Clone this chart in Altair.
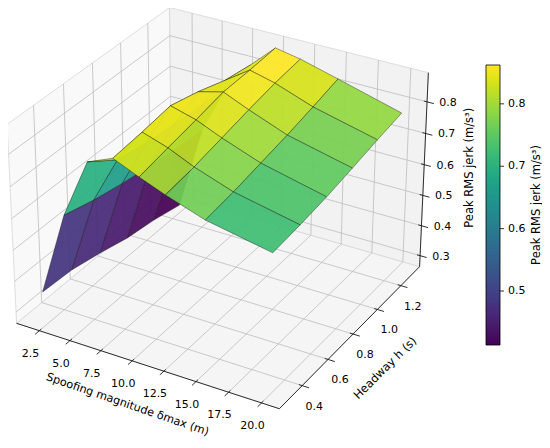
import numpy as np
import pandas as pd
import altair as alt

# ---------------- data ----------------
DELTA = [2, 4, 6, 8, 10, 12, 15, 20]            # spoofing magnitude (m)
HEADWAY = [0.3, 0.5, 0.7, 0.9, 1.1, 1.3]         # headway (s)
JERK = [                                          # rows: headway, cols: delta
    [0.355, 0.625, 0.812, 0.845, 0.811, 0.780, 0.739, 0.700],
    [0.349, 0.599, 0.748, 0.855, 0.829, 0.793, 0.751, 0.709],
    [0.328, 0.580, 0.730, 0.868, 0.846, 0.812, 0.768, 0.721],
    [0.303, 0.565, 0.720, 0.845, 0.865, 0.831, 0.785, 0.738],
    [0.289, 0.553, 0.712, 0.815, 0.868, 0.848, 0.805, 0.756],
    [0.267, 0.545, 0.705, 0.800, 0.874, 0.859, 0.827, 0.772],
]
X_TICKS = [2.5, 5.0, 7.5, 10.0, 12.5, 15.0, 17.5, 20.0]
Y_TICKS = [0.4, 0.6, 0.8, 1.0, 1.2]
Z_TICKS = [0.3, 0.4, 0.5, 0.6, 0.7, 0.8]
CB_TICKS = [0.5, 0.6, 0.7, 0.8]
X_TITLE = "Spoofing magnitude δmax (m)"
Y_TITLE = "Headway h (s)"
Z_TITLE = "Peak RMS jerk (m/s³)"

# ---------------- 3-D view (matplotlib-like perspective) ----------------
ELEV, AZIM = 29.68, -59.9
XLIM = (0.612, 21.34)
YLIM = (0.229, 1.364)
ZLIM = (0.263, 0.891)
SCALE, CX, CY = 2531.0, 221.8, 198.4
BOX = np.array([4.0, 4.0, 3.0]) * 1.8294640721620434 * 25 / 24 / np.linalg.norm([4, 4, 3])
FONT = "DejaVu Sans"


def proj(P):
    P = np.asarray(P, float)
    W = np.column_stack([(P[:, 0] - XLIM[0]) / (XLIM[1] - XLIM[0]) * BOX[0],
                         (P[:, 1] - YLIM[0]) / (YLIM[1] - YLIM[0]) * BOX[1],
                         (P[:, 2] - ZLIM[0]) / (ZLIM[1] - ZLIM[0]) * BOX[2]])
    e, a = np.radians(ELEV), np.radians(AZIM)
    w = np.array([np.cos(e) * np.cos(a), np.cos(e) * np.sin(a), np.sin(e)])
    eye = BOX / 2 + 10 * w
    u = np.cross([0, 0, 1.0], w)
    u /= np.linalg.norm(u)
    v = np.cross(w, u)
    D = W - eye
    depth = -(D @ w)
    return np.column_stack([CX + SCALE * (D @ u) / depth, CY - SCALE * (D @ v) / depth]), depth


def seg_df(segs, prefix):
    rows = []
    for n, (a, b) in enumerate(segs):
        xy, _ = proj([a, b])
        for o in range(2):
            rows.append({"px": xy[o, 0], "py": xy[o, 1], "k": f"{prefix}{n:03d}", "o": o})
    return pd.DataFrame(rows)


def poly_df(corners, key):
    xy, _ = proj(corners)
    n = len(corners)
    return pd.DataFrame([{"px": xy[o % n, 0], "py": xy[o % n, 1], "k": key, "o": o} for o in range(n + 1)])


xl, xh = XLIM
yl, yh = YLIM
zl, zh = ZLIM
Rx, Ry = xh - xl, yh - yl

XS = alt.Scale(domain=[8, 542], range=[0, 534])
YS = alt.Scale(domain=[8, 440], range=[0, 432])
PX = alt.X("px:Q", scale=XS, axis=None)
PY = alt.Y("py:Q", scale=YS, axis=None)

# panes
floor = poly_df([[xl, yl, zl], [xh, yl, zl], [xh, yh, zl], [xl, yh, zl]], "floor")
lwall = poly_df([[xl, yl, zl], [xl, yh, zl], [xl, yh, zh], [xl, yl, zh]], "lwall")
bwall = poly_df([[xl, yh, zl], [xh, yh, zl], [xh, yh, zh], [xl, yh, zh]], "bwall")
panes = [
    alt.Chart(df).mark_line(fill=c, stroke="#d6d6d6", strokeWidth=0.8).encode(PX, PY, order="o:Q")
    for df, c in [(floor, "#f5f5f5"), (lwall, "#f9f9f9"), (bwall, "#f2f2f2")]
]

# grid lines
gsegs = []
for t in X_TICKS:
    gsegs += [([t, yl, zl], [t, yh, zl]), ([t, yh, zl], [t, yh, zh])]
for t in Y_TICKS:
    gsegs += [([xl, t, zl], [xh, t, zl]), ([xl, t, zl], [xl, t, zh])]
for t in Z_TICKS:
    gsegs += [([xl, yl, t], [xl, yh, t]), ([xl, yh, t], [xh, yh, t])]
grid = alt.Chart(seg_df(gsegs, "g")).mark_line(color="#bdbdbd", strokeWidth=0.8).encode(
    PX, PY, detail="k:N", order="o:Q")

# axis lines and ticks
asegs = [([xl, yl, zl], [xh, yl, zl]), ([xh, yl, zl], [xh, yh, zl]), ([xh, yh, zl], [xh, yh, zh])]
for t in X_TICKS:
    asegs.append(([t, yl - 0.025 * Ry, zl], [t, yl + 0.012 * Ry, zl]))
for t in Y_TICKS:
    asegs.append(([xh + 0.025 * Rx, t, zl], [xh - 0.012 * Rx, t, zl]))
for t in Z_TICKS:
    asegs.append(([xh + 0.025 * Rx, yh, t], [xh - 0.012 * Rx, yh, t]))
axes = alt.Chart(seg_df(asegs, "a")).mark_line(color="#1a1a1a", strokeWidth=0.9).encode(
    PX, PY, detail="k:N", order="o:Q")

# surface quads, painter's order
faces = []
for i in range(len(HEADWAY) - 1):
    for j in range(len(DELTA) - 1):
        cs = [(j, i), (j + 1, i), (j + 1, i + 1), (j, i + 1)]
        P3 = np.array([[DELTA[a], HEADWAY[b], JERK[b][a]] for a, b in cs])
        xy, depth = proj(P3)
        faces.append((depth.mean(), xy, P3[:, 2].mean()))
faces.sort(key=lambda f: -f[0])
rows = []
for n, (_, xy, zc) in enumerate(faces):
    for o in range(5):
        rows.append({"px": xy[o % 4, 0], "py": xy[o % 4, 1], "k": f"q{n:03d}", "o": o, "zc": zc})
sdf = pd.DataFrame(rows)
zmin_face = min(f[2] for f in faces)
zmax_face = max(f[2] for f in faces)
CSCALE = alt.Scale(scheme="viridis", domain=[zmin_face, zmax_face])
surf = alt.Chart(sdf).mark_line(stroke="#111111", strokeWidth=0.5, strokeOpacity=0.8,
                                fillOpacity=0.93).encode(
    PX, PY, detail="k:N", order="o:Q", fill=alt.Fill("zc:Q", scale=CSCALE, legend=None))


# tick labels and axis titles (anchor = projected point + pixel offset)
def text_layer(points, labels, off, angle=0, size=11):
    xy, _ = proj(points)
    df = pd.DataFrame({"px": xy[:, 0] + off[0], "py": xy[:, 1] + off[1], "t": labels})
    return alt.Chart(df).mark_text(font=FONT, fontSize=size, color="black", angle=angle,
                                   align="center", baseline="middle").encode(PX, PY, text="t:N")


xlab = text_layer([[t, yl, zl] for t in X_TICKS], [f"{t:.1f}" for t in X_TICKS], (-9, 23))
ylab = text_layer([[xh, t, zl] for t in Y_TICKS], [f"{t:.1f}" for t in Y_TICKS], (12, 21))
zlab = text_layer([[xh, yh, t] for t in Z_TICKS], [f"{t:.1f}" for t in Z_TICKS], (21, 1))
xtit = text_layer([[(xl + xh) / 2, yl, zl]], [X_TITLE], (-17, 40), 19, 11.2)
ytit = text_layer([[xh, (yl + yh) / 2, zl]], [Y_TITLE], (33, 34), 315.5, 11.5)
ztit = text_layer([[xh, yh, (zl + zh) / 2]], [Z_TITLE], (46, -4), 270, 11.5)

main = alt.layer(*panes, grid, axes, surf, xlab, ylab, zlab, xtit, ytit, ztit)

# colour bar
lev = np.linspace(zmin_face, zmax_face, 161)
step = lev[1] - lev[0]
cbdf = pd.DataFrame({"v0": lev[:-1], "v1": np.minimum(lev[1:] + 0.6 * step, zmax_face),
                     "vm": (lev[:-1] + lev[1:]) / 2})
CB_Y = alt.Scale(domain=[zmin_face, zmax_face], range=[337, 57])
cbar = alt.Chart(cbdf).mark_rect(strokeWidth=0).encode(
    x=alt.value(478), x2=alt.value(492),
    y=alt.Y("v0:Q", scale=CB_Y, axis=None), y2="v1:Q",
    fill=alt.Fill("vm:Q", scale=CSCALE, legend=None))
cbox = alt.Chart(pd.DataFrame({"a": [zmin_face], "b": [zmax_face]})).mark_rect(
    fillOpacity=0, stroke="black", strokeWidth=0.8).encode(
    x=alt.value(478), x2=alt.value(492),
    y=alt.Y("a:Q", scale=CB_Y, axis=None), y2="b:Q")
cbt = pd.DataFrame({"v": CB_TICKS, "t": [f"{v:.1f}" for v in CB_TICKS]})
cticks = alt.Chart(cbt).mark_rule(color="black", strokeWidth=0.8).encode(
    x=alt.value(492), x2=alt.value(496), y=alt.Y("v:Q", scale=CB_Y, axis=None))
clabs = alt.Chart(cbt).mark_text(font=FONT, fontSize=11, color="black", align="left",
                                 baseline="middle").encode(
    x=alt.value(500), y=alt.Y("v:Q", scale=CB_Y, axis=None), text="t:N")
ctit = alt.Chart(pd.DataFrame({"t": [Z_TITLE]})).mark_text(
    font=FONT, fontSize=11.5, color="black", angle=270, align="center", baseline="middle").encode(
    x=alt.value(529), y=alt.value(197), text="t:N")
cb = alt.layer(cbar, cbox, cticks, clabs, ctit)

chart = alt.layer(main, cb).resolve_scale(y="independent").properties(
    width=534, height=432, padding=0, autosize=alt.AutoSizeParams(type="none")
).configure_view(strokeWidth=0)
chart.save("out.html", embed_options={"renderer": "svg", "actions": False})
